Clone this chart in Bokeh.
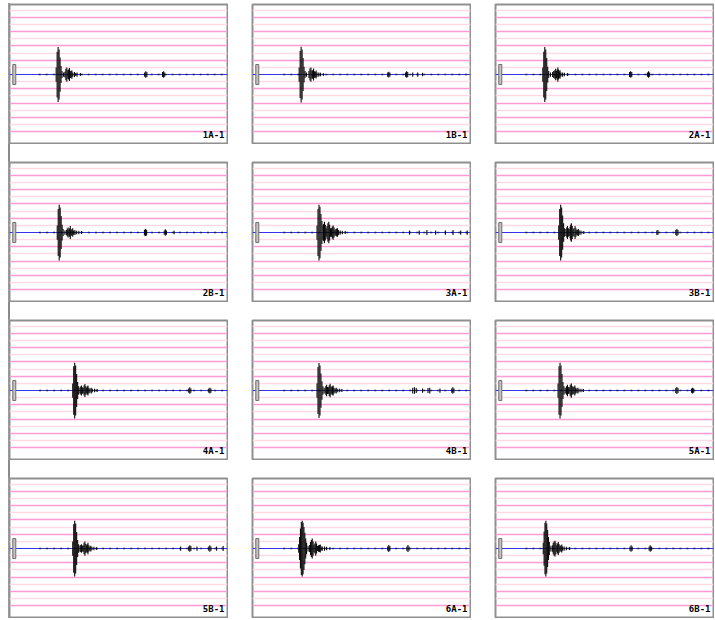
from bokeh.plotting import figure
from bokeh.layouts import gridplot
from bokeh.models import Range1d
from bokeh.core.properties import value
from bokeh.embed import file_html
from bokeh.resources import INLINE

# ---- data (time in % of record length, amplitude in chart-grid units) ----
labels = ["1A-1", "1B-1", "2A-1", "2B-1", "3A-1", "3B-1",
          "4A-1", "4B-1", "5A-1", "5B-1", "6A-1", "6B-1"]

trace_start = [13.4, 14.1, 13.7, 13.5, 14.1, 13.7, 13.6, 14.1, 13.7, 13.6, 14.1, 13.7]

strong_levels = [-8, -6, -4, -2, 2, 4, 6, 8]
light_levels = [-7, -5, -3, -1, 1, 3, 5, 7, 9]

cal_time = 2.2
cal_amp = 1.4

t_1A1 = [21.4, 21.85, 22.3, 22.75, 23.2, 23.65, 24.1, 24.8, 25.4, 25.85, 26.3, 26.75, 27.1, 27.5, 27.9, 28.25, 28.6, 29.0, 29.8, 30.4, 31.0, 32.5, 62.0, 62.5, 63.0, 70.2, 70.7, 71.2]
a_1A1 = [1.0, 3.2, 3.85, 3.5, 2.4, 1.2, 0.5, 0.3, 0.4, 0.8, 1.0, 0.6, 0.7, 0.9, 0.5, 0.45, 0.6, 0.3, 0.35, 0.2, 0.3, 0.2, 0.3, 0.45, 0.35, 0.35, 0.45, 0.3]

t_1B1 = [21.4, 21.85, 22.3, 22.75, 23.2, 23.65, 24.1, 24.8, 25.9, 26.35, 26.8, 27.25, 27.6, 28.0, 28.4, 28.8, 29.2, 29.6, 30.4, 31.2, 32.5, 62.0, 62.5, 63.0, 70.2, 70.7, 71.2, 73.5, 75.8, 78.0]
a_1B1 = [1.0, 3.3, 3.9, 3.5, 2.3, 1.1, 0.5, 0.3, 0.5, 0.85, 1.0, 0.55, 0.6, 0.85, 0.45, 0.4, 0.55, 0.3, 0.3, 0.25, 0.2, 0.3, 0.4, 0.3, 0.3, 0.45, 0.35, 0.3, 0.3, 0.25]

t_2A1 = [21.7, 22.15, 22.6, 23.05, 23.5, 23.95, 24.4, 25.2, 26.2, 26.7, 27.2, 27.6, 28.0, 28.3, 28.6, 28.9, 29.3, 29.6, 30.0, 30.8, 31.6, 33.0, 61.5, 62.0, 62.5, 69.7, 70.2, 70.7]
a_2A1 = [1.0, 3.2, 3.85, 3.5, 2.3, 1.1, 0.5, 0.3, 0.35, 0.5, 0.6, 0.8, 0.5, 0.7, 1.0, 0.7, 0.45, 0.6, 0.3, 0.3, 0.25, 0.2, 0.35, 0.45, 0.35, 0.3, 0.45, 0.3]

t_2B1 = [21.9, 22.35, 22.8, 23.25, 23.7, 24.15, 24.6, 25.4, 26.1, 26.5, 26.9, 27.3, 27.6, 27.9, 28.3, 28.65, 29.0, 29.4, 30.0, 30.8, 31.8, 33.0, 61.9, 62.4, 62.9, 71.0, 71.5, 72.0, 75.5]
a_2B1 = [1.0, 3.3, 3.9, 3.5, 2.3, 1.1, 0.5, 0.3, 0.35, 0.55, 0.7, 0.4, 0.6, 0.9, 0.45, 0.4, 0.6, 0.3, 0.35, 0.25, 0.25, 0.2, 0.4, 0.5, 0.4, 0.3, 0.45, 0.3, 0.25]

t_3A1 = [29.6, 30.05, 30.5, 30.95, 31.4, 31.85, 32.3, 32.6, 33.0, 33.4, 33.8, 34.2, 34.6, 35.0, 35.4, 35.8, 36.2, 36.6, 37.0, 37.4, 37.8, 38.2, 38.6, 39.0, 39.4, 40.2, 41.2, 42.5, 72.0, 76.5, 80.0, 84.0, 88.5, 92.0, 95.5, 98.5]
a_3A1 = [1.0, 3.3, 3.9, 3.6, 2.6, 1.6, 1.0, 1.2, 1.5, 1.1, 0.6, 0.9, 1.3, 1.5, 1.1, 0.6, 0.6, 0.85, 1.0, 0.7, 0.4, 0.45, 0.55, 0.6, 0.35, 0.3, 0.25, 0.2, 0.3, 0.3, 0.35, 0.3, 0.3, 0.35, 0.3, 0.3]

t_3B1 = [29.0, 29.45, 29.9, 30.35, 30.8, 31.25, 31.7, 32.3, 32.7, 33.0, 33.4, 33.8, 34.2, 34.5, 34.8, 35.2, 35.6, 36.0, 36.5, 36.9, 37.3, 37.7, 38.0, 38.4, 39.2, 40.5, 74.0, 74.5, 82.7, 83.2, 83.7]
a_3B1 = [1.0, 3.3, 3.9, 3.5, 2.4, 1.3, 0.6, 0.5, 0.7, 0.9, 0.6, 0.5, 0.8, 1.1, 1.3, 0.9, 0.5, 0.6, 0.9, 0.6, 0.35, 0.4, 0.5, 0.3, 0.3, 0.2, 0.3, 0.35, 0.35, 0.5, 0.35]

t_4A1 = [29.0, 29.45, 29.9, 30.35, 30.8, 31.25, 31.7, 32.3, 32.7, 33.0, 33.4, 33.8, 34.2, 34.6, 35.0, 35.4, 35.7, 36.0, 36.4, 36.9, 37.5, 38.0, 39.0, 40.2, 82.2, 82.7, 83.2, 91.4, 91.9, 92.4]
a_4A1 = [1.0, 3.4, 3.9, 3.5, 2.3, 1.2, 0.6, 0.4, 0.55, 0.7, 0.45, 0.4, 0.7, 0.9, 0.6, 0.4, 0.55, 0.7, 0.4, 0.3, 0.4, 0.25, 0.25, 0.2, 0.3, 0.45, 0.3, 0.3, 0.4, 0.3]

t_4B1 = [29.6, 30.05, 30.5, 30.95, 31.4, 31.85, 32.3, 32.9, 33.6, 34.0, 34.4, 34.8, 35.2, 35.6, 36.0, 36.4, 36.7, 37.0, 37.4, 37.9, 38.4, 38.9, 39.8, 41.0, 73.5, 74.3, 75.1, 78.0, 80.5, 81.3, 86.0, 91.4, 91.9, 92.4]
a_4B1 = [1.0, 3.3, 3.85, 3.5, 2.4, 1.3, 0.6, 0.4, 0.6, 0.8, 0.5, 0.45, 0.75, 0.95, 0.6, 0.45, 0.6, 0.7, 0.4, 0.3, 0.4, 0.25, 0.25, 0.2, 0.4, 0.45, 0.35, 0.3, 0.35, 0.4, 0.3, 0.3, 0.45, 0.3]

t_5A1 = [28.7, 29.15, 29.6, 30.05, 30.5, 30.95, 31.4, 32.0, 32.6, 33.0, 33.4, 33.8, 34.3, 34.8, 35.2, 35.6, 36.0, 36.4, 36.8, 37.3, 37.8, 38.3, 39.2, 40.3, 82.7, 83.2, 83.7, 89.9, 90.4, 90.9]
a_5A1 = [1.0, 3.4, 3.9, 3.5, 2.3, 1.2, 0.6, 0.4, 0.6, 0.8, 0.5, 0.45, 0.8, 1.0, 0.6, 0.45, 0.55, 0.7, 0.4, 0.3, 0.4, 0.25, 0.25, 0.2, 0.35, 0.5, 0.35, 0.3, 0.4, 0.3]

t_5B1 = [29.0, 29.45, 29.9, 30.35, 30.8, 31.25, 31.7, 32.3, 32.7, 33.0, 33.4, 33.8, 34.2, 34.6, 35.0, 35.4, 35.7, 36.0, 36.4, 36.9, 37.3, 37.8, 38.7, 40.0, 78.5, 82.2, 82.7, 83.2, 86.0, 91.4, 91.9, 92.4, 95.0, 98.0]
a_5B1 = [1.0, 3.4, 3.9, 3.5, 2.3, 1.2, 0.6, 0.4, 0.5, 0.6, 0.4, 0.45, 0.8, 1.0, 0.65, 0.45, 0.6, 0.8, 0.45, 0.3, 0.4, 0.25, 0.25, 0.2, 0.3, 0.3, 0.45, 0.35, 0.3, 0.3, 0.45, 0.3, 0.3, 0.35]

t_6A1 = [21.2, 21.6, 22.0, 22.4, 22.8, 23.2, 23.6, 24.0, 24.4, 24.8, 25.5, 26.2, 26.6, 27.0, 27.4, 27.8, 28.2, 28.6, 29.0, 29.4, 29.8, 30.3, 30.7, 31.1, 31.5, 32.0, 33.0, 34.0, 35.5, 62.0, 62.5, 63.0, 70.8, 71.3, 71.8]
a_6A1 = [0.6, 1.6, 2.8, 3.7, 3.9, 3.6, 3.0, 2.2, 1.4, 0.8, 0.4, 0.5, 0.9, 1.2, 1.4, 1.0, 0.5, 0.7, 1.0, 0.7, 0.35, 0.45, 0.5, 0.55, 0.3, 0.3, 0.3, 0.25, 0.2, 0.3, 0.5, 0.35, 0.3, 0.5, 0.3]

t_6B1 = [21.9, 22.3, 22.7, 23.1, 23.5, 23.9, 24.3, 24.7, 25.4, 26.1, 26.5, 26.9, 27.3, 27.7, 28.1, 28.5, 28.8, 29.2, 29.6, 30.0, 30.4, 30.8, 31.5, 32.5, 34.0, 61.7, 62.2, 62.7, 70.5, 71.0, 71.5]
a_6B1 = [0.8, 2.4, 3.6, 3.9, 3.5, 2.6, 1.6, 0.9, 0.4, 0.45, 0.8, 1.0, 1.1, 0.8, 0.45, 0.7, 0.9, 0.6, 0.35, 0.45, 0.55, 0.3, 0.3, 0.25, 0.2, 0.3, 0.45, 0.3, 0.3, 0.45, 0.3]

times = [t_1A1, t_1B1, t_2A1, t_2B1, t_3A1, t_3B1, t_4A1, t_4B1, t_5A1, t_5B1, t_6A1, t_6B1]
amps = [a_1A1, a_1B1, a_2A1, a_2B1, a_3A1, a_3B1, a_4A1, a_4B1, a_5A1, a_5B1, a_6A1, a_6B1]

# ---- styling ----
PANEL_W, PANEL_H = 220, 141
Y0, Y1 = -9.65, 9.8
PX_PER_UNIT = (PANEL_H - 2) / (Y1 - Y0)

figs = []
for lab, t, a, st in zip(labels, times, amps, trace_start):
    p = figure(width=PANEL_W, height=PANEL_H, x_range=Range1d(0, 100),
               y_range=Range1d(Y0, Y1), output_backend="svg",
               toolbar_location=None, x_axis_location=None,
               y_axis_location=None, min_border=1)
    p.grid.visible = False
    p.outline_line_color = "#8f8f8f"
    p.outline_line_width = 2
    p.background_fill_color = "white"
    p.border_fill_color = "white"

    p.hspan(y=light_levels, line_color="#ffd9e6", line_width=1.5)
    p.hspan(y=strong_levels, line_color="#ff9cd4", line_width=1.5)
    p.hspan(y=[0], line_color="#3434ee", line_width=1.2)

    # low-level background trace
    p.segment(x0=[st], y0=[0], x1=[100], y1=[0], line_color="#222244",
              line_width=1.6, line_dash="2 5")
    # wave trains
    p.segment(x0=t, y0=[-v for v in a], x1=t, y1=a,
              line_color="#0a0a0a", line_width=1.1)
    # calibration mark
    p.rect(x=[cal_time], y=[0], width=3, height=2 * cal_amp,
           width_units="screen", fill_color="#c4c4c4",
           line_color="#6e6e6e", line_width=1)
    p.text(x=[100], y=[Y0 + 3.5 / PX_PER_UNIT], text=[lab], text_align="right",
           text_baseline="bottom", x_offset=-3,
           text_font=value("DejaVu Sans Mono"), text_font_size="9px",
           text_font_style="bold", text_color="black")
    figs.append(p)

grid = gridplot(figs, ncols=3, toolbar_location=None)
grid.spacing = (17, 23)
grid.margin = (3, 0, 0, 8)
grid.styles = {"box-shadow": "inset 2px 0 0 0 #8a8a8a"}

open("out.html", "w").write(file_html(grid, INLINE))
